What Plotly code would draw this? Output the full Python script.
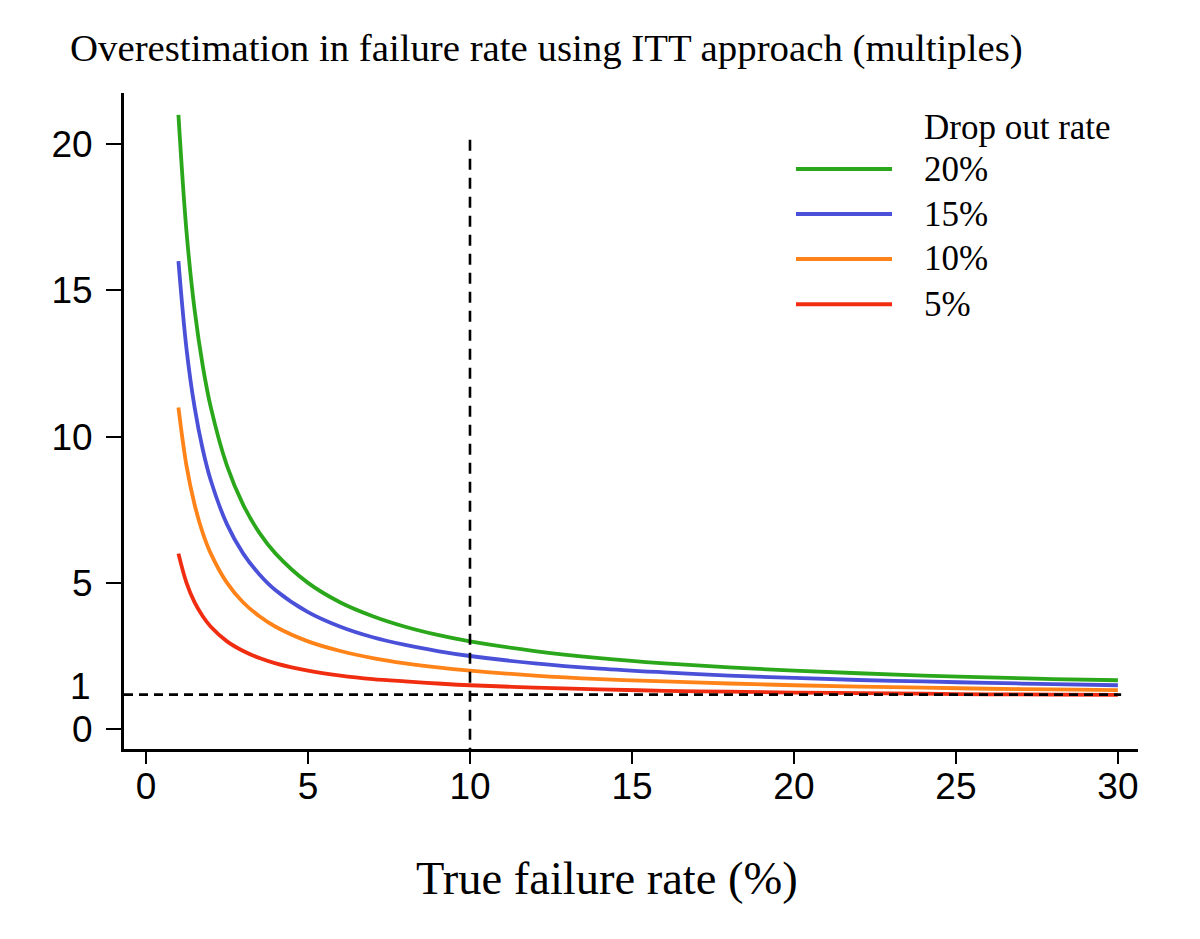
import plotly.graph_objects as go

# True failure rate (%)
failure_rate = [1, 1.25, 1.5, 1.75, 2, 2.5, 3, 3.5, 4, 5, 6, 7, 8, 9, 10,
                12, 14, 16, 18, 20, 22, 24, 26, 28, 30]

# Overestimation (multiples), per drop-out rate
over_20 = [21, 17, 14.33, 12.43, 11, 9, 7.67, 6.71, 6, 5, 4.33, 3.86, 3.5, 3.22, 3,
           2.67, 2.43, 2.25, 2.11, 2, 1.91, 1.83, 1.77, 1.71, 1.67]
over_15 = [16, 13, 11, 9.57, 8.5, 7, 6, 5.29, 4.75, 4, 3.5, 3.14, 2.88, 2.67, 2.5,
           2.25, 2.07, 1.94, 1.83, 1.75, 1.68, 1.63, 1.58, 1.54, 1.5]
over_10 = [11, 9, 7.67, 6.71, 6, 5, 4.33, 3.86, 3.5, 3, 2.67, 2.43, 2.25, 2.11, 2,
           1.83, 1.71, 1.63, 1.56, 1.5, 1.45, 1.42, 1.38, 1.36, 1.33]
over_5 = [6, 5, 4.33, 3.86, 3.5, 3, 2.67, 2.43, 2.25, 2, 1.83, 1.71, 1.63, 1.56, 1.5,
          1.42, 1.36, 1.31, 1.28, 1.25, 1.23, 1.21, 1.19, 1.18, 1.17]

dropout_labels = ["20%", "15%", "10%", "5%"]
series = [over_20, over_15, over_10, over_5]
colors = ["#2ba71b", "#4a50d8", "#ff8318", "#f02d10"]

x_ticks = [0, 5, 10, 15, 20, 25, 30]
y_ticks = [0, 5, 10, 15, 20]

ref_x = 10        # vertical reference line
ref_y = 1.18      # horizontal reference line
ref_x_top = 20.15
ref_y_right = 30.1

x_range = [-0.68, 30.62]
y_range = [-0.68, 21.75]

SERIF = "Liberation Serif, Times New Roman, serif"
SANS = "Liberation Sans, Arial, sans-serif"

fig = go.Figure()
for lab, vals, col in zip(dropout_labels, series, colors):
    fig.add_trace(go.Scatter(x=failure_rate, y=vals, mode="lines", name=lab,
                             line=dict(color=col, width=3.8, shape="spline", smoothing=1.0),
                             showlegend=False))

# dashed reference lines
fig.add_shape(type="line", xref="x", yref="y", x0=x_range[0], x1=ref_y_right, y0=ref_y, y1=ref_y,
              line=dict(color="black", width=2.6, dash="9px,6px"))
fig.add_shape(type="line", xref="x", yref="y", x0=ref_x, x1=ref_x, y0=ref_x_top, y1=y_range[0],
              line=dict(color="black", width=2.6, dash="11px,8px"))

# manual legend
leg_y = [0.884, 0.8155, 0.747, 0.678]
for lab, col, yy in zip(dropout_labels, colors, leg_y):
    fig.add_shape(type="line", xref="paper", yref="paper", x0=0.6627, x1=0.7574, y0=yy, y1=yy,
                  line=dict(color=col, width=4))
    fig.add_annotation(xref="paper", yref="paper", x=0.787, y=yy, text=lab, showarrow=False,
                       xanchor="left", yanchor="middle",
                       font=dict(family=SERIF, size=35, color="black"))
fig.add_annotation(xref="paper", yref="paper", x=0.787, y=0.948, text="Drop out rate", showarrow=False,
                   xanchor="left", yanchor="middle",
                   font=dict(family=SERIF, size=35, color="black"))

# title
fig.add_annotation(xref="paper", yref="paper", x=-0.0552, y=1.0686,
                   text="Overestimation in failure rate using ITT approach (multiples)",
                   showarrow=False, xanchor="left", yanchor="middle",
                   font=dict(family=SERIF, size=38.8, color="black"))
# x axis title
fig.add_annotation(xref="paper", yref="paper", x=0.476, y=-0.197, text="True failure rate (%)",
                   showarrow=False, xanchor="center", yanchor="middle",
                   font=dict(family=SERIF, size=46.5, color="black"))
# extra "1" label on y axis
fig.add_annotation(xref="paper", yref="y", x=-0.031, y=1.47, text="1", showarrow=False,
                   xanchor="right", yanchor="middle",
                   font=dict(family=SANS, size=37, color="black"))

fig.update_layout(
    width=1200, height=939,
    margin=dict(l=116, r=70, t=85, b=198),
    plot_bgcolor="white", paper_bgcolor="white",
    xaxis=dict(range=x_range, tickvals=x_ticks, showgrid=False, zeroline=False,
               showline=True, linecolor="black", linewidth=3,
               ticks="outside", ticklen=12, tickwidth=2, tickcolor="black",
               ticklabelstandoff=-9,
               tickfont=dict(family=SANS, size=37, color="black")),
    yaxis=dict(range=y_range, tickvals=y_ticks, showgrid=False, zeroline=False,
               showline=True, linecolor="black", linewidth=3,
               ticks="outside", ticklen=15, tickwidth=2, tickcolor="black",
               ticklabelstandoff=6,
               tickfont=dict(family=SANS, size=37, color="black")),
)

fig.write_html("out.html")
